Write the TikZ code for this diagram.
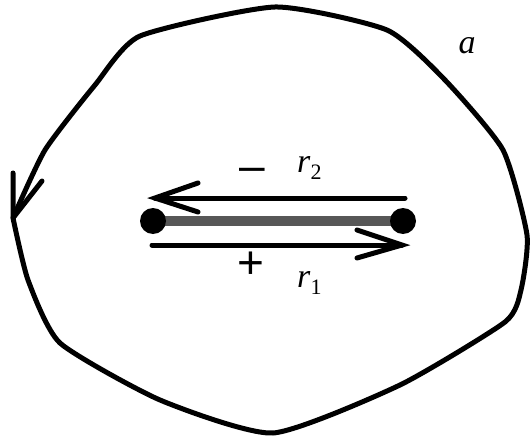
\documentclass[tikz,border=0pt]{standalone}
\usepackage{fontspec}
\setmainfont{Liberation Serif}
\newfontfamily\arialf{Liberation Sans}
\usetikzlibrary{calc}
\begin{document}
\begin{tikzpicture}[x=1pt,y=-1pt,
  curve/.style={line width=5pt, line join=round, line cap=round},
  arr/.style={line width=5pt, line cap=round, line join=miter},
  bar/.style={line width=10pt, draw=black!66},
  dot/.style={circle, fill=black, minimum size=26pt, inner sep=0pt},
  lab/.style={font=\fontsize{34}{34}\selectfont, inner sep=0pt},
  sgn/.style={font=\arialf\fontsize{46}{46}\selectfont, inner sep=0pt}]
\useasboundingbox (0,0) rectangle (531,436);
% closed contour a
\coordinate (tip) at (13,218);
\draw[curve] plot[smooth, tension=0.35] coordinates {
  (13,218) (45,150) (95,85) (140,36) (275,7) (387,30) (445,80)
  (503,150) (527,235) (521,290) (505,322) (400,385) (273,433)
  (160,400) (60,343) (28,280) (13,218)};
\coordinate (tb1) at (13,173);
\coordinate (tb2) at (42,181);
\draw[curve] (tb1) -- (tip) -- (tb2);
% segment between the two points
\coordinate (L) at (153,221);
\coordinate (R) at (403,221);
\draw[bar] (L) -- (R);
\node[dot] (Ld) at (L) {};
\node[dot] (Rd) at (R) {};
% r2 arrow (leftward)
\coordinate (r2s) at (405,198);
\coordinate (r2e) at (155,198);
\draw[arr] (r2s) -- (r2e);
\draw[arr] ($(r2e)+(43,-15)$) -- (r2e) -- ($(r2e)+(43,14)$);
% r1 arrow (rightward)
\coordinate (r1s) at (152,245);
\coordinate (r1e) at (402,245);
\draw[arr] (r1s) -- (r1e);
\draw[arr] ($(r1e)+(-45,-15)$) -- (r1e) -- ($(r1e)+(-45,13)$);
% labels
\node[lab] (la) at (467,46) {\textit{a}};
\node[lab, anchor=base west] (lr2) at (297,172) {\textit{r}\raisebox{-0.22em}{\fontsize{22}{22}\selectfont 2}};
\node[lab, anchor=base west] (lr1) at (297,287) {\textit{r}\raisebox{-0.22em}{\fontsize{22}{22}\selectfont 1}};
\node[sgn] (lm) at (252,175) {\textendash};
\node[sgn] (lp) at (251,265) {+};
\end{tikzpicture}
\end{document}
